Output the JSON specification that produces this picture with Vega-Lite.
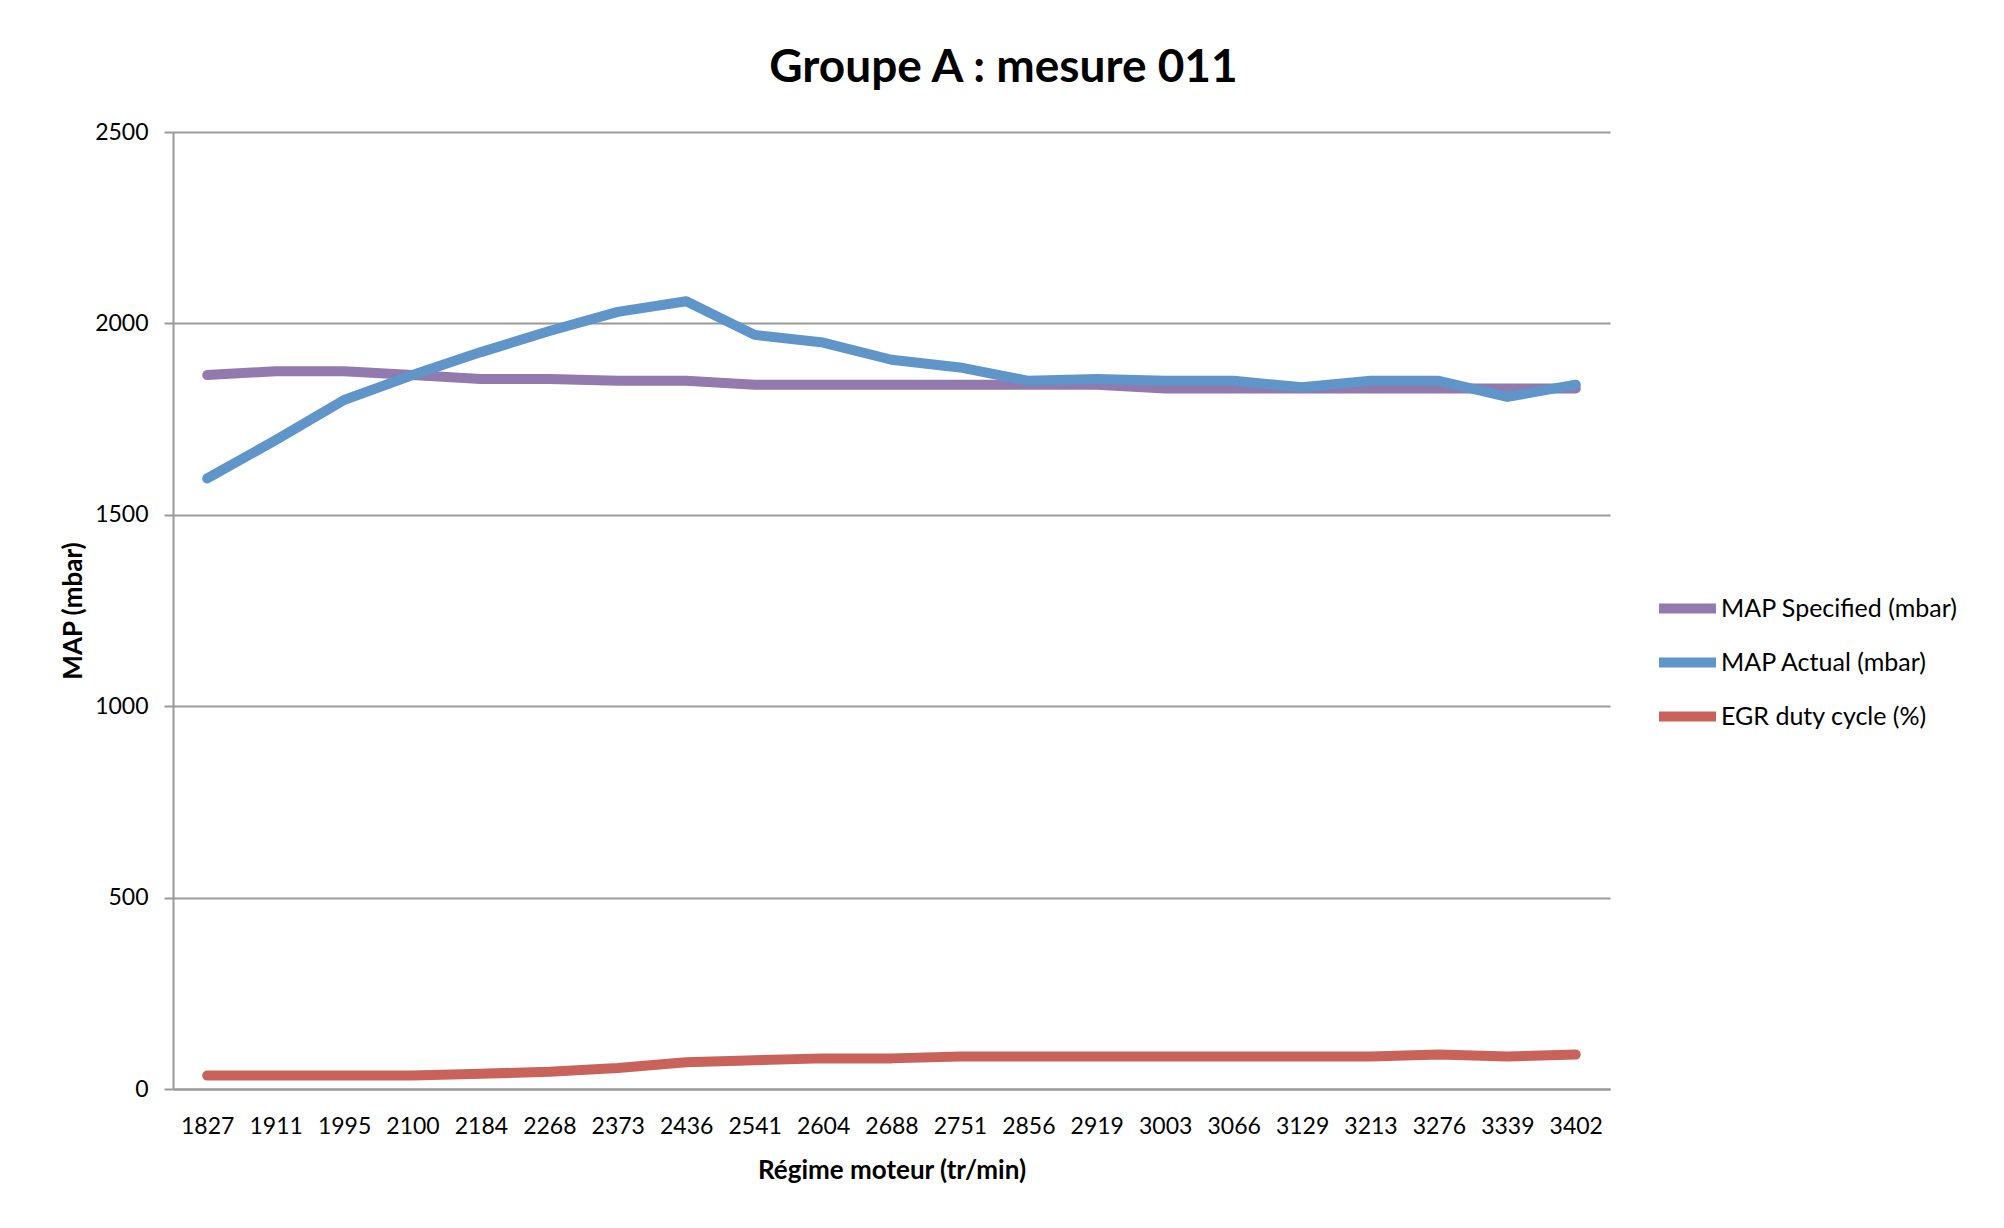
{
  "$schema": "https://vega.github.io/schema/vega-lite/v6.json",
  "autosize": {"type": "none"},
  "width": 1437,
  "height": 957,
  "padding": {"left": 173, "top": 132, "right": 394, "bottom": 139},
  "background": "white",
  "title": {
    "text": "Groupe A : mesure 011",
    "font": "Lato",
    "fontSize": 46,
    "fontWeight": "bold",
    "color": "black",
    "anchor": "middle",
    "frame": "group",
    "dx": 112,
    "offset": 29
  },
  "config": {
    "view": {"stroke": null},
    "font": "Lato"
  },
  "datasets": {
    "rows": [
      {"rpm": "1827", "series": "MAP Specified (mbar)", "value": 1865},
      {"rpm": "1911", "series": "MAP Specified (mbar)", "value": 1875},
      {"rpm": "1995", "series": "MAP Specified (mbar)", "value": 1875},
      {"rpm": "2100", "series": "MAP Specified (mbar)", "value": 1865},
      {"rpm": "2184", "series": "MAP Specified (mbar)", "value": 1855},
      {"rpm": "2268", "series": "MAP Specified (mbar)", "value": 1855},
      {"rpm": "2373", "series": "MAP Specified (mbar)", "value": 1850},
      {"rpm": "2436", "series": "MAP Specified (mbar)", "value": 1850},
      {"rpm": "2541", "series": "MAP Specified (mbar)", "value": 1840},
      {"rpm": "2604", "series": "MAP Specified (mbar)", "value": 1840},
      {"rpm": "2688", "series": "MAP Specified (mbar)", "value": 1840},
      {"rpm": "2751", "series": "MAP Specified (mbar)", "value": 1840},
      {"rpm": "2856", "series": "MAP Specified (mbar)", "value": 1840},
      {"rpm": "2919", "series": "MAP Specified (mbar)", "value": 1840},
      {"rpm": "3003", "series": "MAP Specified (mbar)", "value": 1830},
      {"rpm": "3066", "series": "MAP Specified (mbar)", "value": 1830},
      {"rpm": "3129", "series": "MAP Specified (mbar)", "value": 1830},
      {"rpm": "3213", "series": "MAP Specified (mbar)", "value": 1830},
      {"rpm": "3276", "series": "MAP Specified (mbar)", "value": 1830},
      {"rpm": "3339", "series": "MAP Specified (mbar)", "value": 1830},
      {"rpm": "3402", "series": "MAP Specified (mbar)", "value": 1830},
      {"rpm": "1827", "series": "MAP Actual (mbar)", "value": 1595},
      {"rpm": "1911", "series": "MAP Actual (mbar)", "value": 1695},
      {"rpm": "1995", "series": "MAP Actual (mbar)", "value": 1800},
      {"rpm": "2100", "series": "MAP Actual (mbar)", "value": 1865},
      {"rpm": "2184", "series": "MAP Actual (mbar)", "value": 1925},
      {"rpm": "2268", "series": "MAP Actual (mbar)", "value": 1980},
      {"rpm": "2373", "series": "MAP Actual (mbar)", "value": 2030},
      {"rpm": "2436", "series": "MAP Actual (mbar)", "value": 2058},
      {"rpm": "2541", "series": "MAP Actual (mbar)", "value": 1970},
      {"rpm": "2604", "series": "MAP Actual (mbar)", "value": 1950},
      {"rpm": "2688", "series": "MAP Actual (mbar)", "value": 1905},
      {"rpm": "2751", "series": "MAP Actual (mbar)", "value": 1885},
      {"rpm": "2856", "series": "MAP Actual (mbar)", "value": 1850},
      {"rpm": "2919", "series": "MAP Actual (mbar)", "value": 1855},
      {"rpm": "3003", "series": "MAP Actual (mbar)", "value": 1850},
      {"rpm": "3066", "series": "MAP Actual (mbar)", "value": 1850},
      {"rpm": "3129", "series": "MAP Actual (mbar)", "value": 1833},
      {"rpm": "3213", "series": "MAP Actual (mbar)", "value": 1850},
      {"rpm": "3276", "series": "MAP Actual (mbar)", "value": 1850},
      {"rpm": "3339", "series": "MAP Actual (mbar)", "value": 1808},
      {"rpm": "3402", "series": "MAP Actual (mbar)", "value": 1840},
      {"rpm": "1827", "series": "EGR duty cycle (%)", "value": 35},
      {"rpm": "1911", "series": "EGR duty cycle (%)", "value": 35},
      {"rpm": "1995", "series": "EGR duty cycle (%)", "value": 35},
      {"rpm": "2100", "series": "EGR duty cycle (%)", "value": 35},
      {"rpm": "2184", "series": "EGR duty cycle (%)", "value": 40},
      {"rpm": "2268", "series": "EGR duty cycle (%)", "value": 45},
      {"rpm": "2373", "series": "EGR duty cycle (%)", "value": 55},
      {"rpm": "2436", "series": "EGR duty cycle (%)", "value": 70},
      {"rpm": "2541", "series": "EGR duty cycle (%)", "value": 75},
      {"rpm": "2604", "series": "EGR duty cycle (%)", "value": 80},
      {"rpm": "2688", "series": "EGR duty cycle (%)", "value": 80},
      {"rpm": "2751", "series": "EGR duty cycle (%)", "value": 85},
      {"rpm": "2856", "series": "EGR duty cycle (%)", "value": 85},
      {"rpm": "2919", "series": "EGR duty cycle (%)", "value": 85},
      {"rpm": "3003", "series": "EGR duty cycle (%)", "value": 85},
      {"rpm": "3066", "series": "EGR duty cycle (%)", "value": 85},
      {"rpm": "3129", "series": "EGR duty cycle (%)", "value": 85},
      {"rpm": "3213", "series": "EGR duty cycle (%)", "value": 85},
      {"rpm": "3276", "series": "EGR duty cycle (%)", "value": 90},
      {"rpm": "3339", "series": "EGR duty cycle (%)", "value": 85},
      {"rpm": "3402", "series": "EGR duty cycle (%)", "value": 90}
    ]
  },
  "data": {"name": "rows"},
  "mark": {"type": "line", "strokeWidth": 10, "strokeCap": "round", "strokeJoin": "round"},
  "encoding": {
    "x": {
      "field": "rpm",
      "type": "ordinal",
      "sort": null,
      "scale": {"type": "point", "padding": 0.5},
      "axis": {
        "title": "Régime moteur (tr/min)",
        "titleFont": "Lato",
        "titleFontSize": 26,
        "titleFontWeight": "bold",
        "titleColor": "black",
        "titlePadding": 19,
        "labelAngle": 0,
        "labelFont": "Lato",
        "labelFontSize": 23,
        "labelColor": "black",
        "labelPadding": 26,
        "labelOverlap": false,
        "ticks": false,
        "grid": false,
        "domainColor": "#9a9a9a",
        "domainWidth": 2
      }
    },
    "y": {
      "field": "value",
      "type": "quantitative",
      "scale": {"domain": [0, 2500], "nice": false},
      "axis": {
        "title": "MAP (mbar)",
        "titleFont": "Lato",
        "titleFontSize": 26,
        "titleFontWeight": "bold",
        "titleColor": "black",
        "titlePadding": 8,
        "values": [0, 500, 1000, 1500, 2000, 2500],
        "format": "d",
        "labelFont": "Lato",
        "labelFontSize": 23,
        "labelColor": "black",
        "labelPadding": 16,
        "tickSize": 9,
        "tickColor": "#9a9a9a",
        "tickWidth": 2,
        "grid": true,
        "gridColor": "#9a9a9a",
        "gridWidth": 2,
        "domainColor": "#9a9a9a",
        "domainWidth": 2
      }
    },
    "color": {
      "field": "series",
      "type": "nominal",
      "sort": ["MAP Specified (mbar)", "MAP Actual (mbar)", "EGR duty cycle (%)"],
      "scale": {
        "domain": ["MAP Specified (mbar)", "MAP Actual (mbar)", "EGR duty cycle (%)"],
        "range": ["#9279AE", "#5F95C8", "#C9625A"]
      },
      "legend": {
        "title": null,
        "orient": "none",
        "legendX": 1481,
        "legendY": 443,
        "symbolType": "stroke",
        "symbolSize": 3249,
        "symbolStrokeWidth": 10,
        "labelFont": "Lato",
        "labelFontSize": 25,
        "labelColor": "black",
        "labelLimit": 0,
        "labelOffset": 0,
        "rowPadding": 0,
        "padding": 0
      }
    }
  }
}
